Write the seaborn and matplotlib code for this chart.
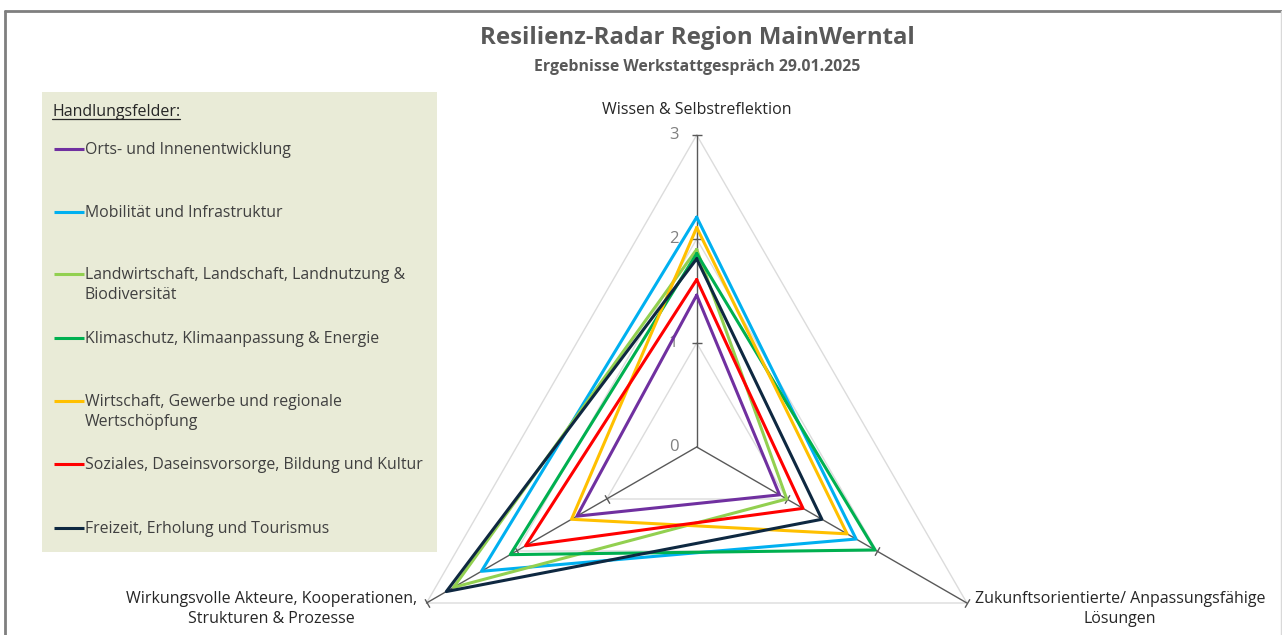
import numpy as np
import pandas as pd
import matplotlib
matplotlib.use("Agg")
import matplotlib.pyplot as plt
from matplotlib.lines import Line2D
import seaborn as sns

# ---- data -------------------------------------------------------------
dimensions = [
    "Wissen & Selbstreflektion",
    "Zukunftsorientierte/ Anpassungsfähige\nLösungen",
    "Wirkungsvolle Akteure, Kooperationen,\nStrukturen & Prozesse",
]

fields = [
    "Orts- und Innenentwicklung",
    "Mobilität und Infrastruktur",
    "Landwirtschaft, Landschaft, Landnutzung &\nBiodiversität",
    "Klimaschutz, Klimaanpassung & Energie",
    "Wirtschaft, Gewerbe und regionale\nWertschöpfung",
    "Soziales, Daseinsvorsorge, Bildung und Kultur",
    "Freizeit, Erholung und Tourismus",
]

# scores per field: [Wissen, Zukunft, Wirkung]
orts = [1.46, 0.92, 1.33]
mobilitaet = [2.21, 1.77, 2.39]
landwirtschaft = [1.90, 1.00, 2.70]
klimaschutz = [1.86, 1.98, 2.07]
wirtschaft = [2.11, 1.67, 1.39]
soziales = [1.61, 1.18, 1.90]
freizeit = [1.81, 1.39, 2.78]

scores = [orts, mobilitaet, landwirtschaft, klimaschutz, wirtschaft, soziales, freizeit]

colors = ["#7030A0", "#00B0F0", "#92D050", "#00B050", "#FFC000", "#FF0000", "#0E2841"]

scale_ticks = [0, 1, 2, 3]

title = "Resilienz-Radar Region MainWerntal"
subtitle = "Ergebnisse Werkstattgespräch 29.01.2025"
legend_title = "Handlungsfelder:"

# ---- figure -----------------------------------------------------------
sns.set_theme(style="white")
plt.rcParams["font.family"] = ["Open Sans", "DejaVu Sans"]

W, H = 1282, 635
fig = plt.figure(figsize=(W / 100, H / 100), dpi=100, facecolor="white")


def px_box(x0, y0, x1, y1):
    return [x0 / W, 1 - y1 / H, (x1 - x0) / W, (y1 - y0) / H]


# outer frame
fig.add_artist(Line2D([5 / W, 1], [1 - 11 / H, 1 - 11 / H], color="#7F7F7F", lw=2,
                      transform=fig.transFigure))
fig.add_artist(Line2D([5 / W, 5 / W], [0, 1 - 11 / H], color="#7F7F7F", lw=2,
                      transform=fig.transFigure))
fig.add_artist(Line2D([1281 / W, 1281 / W], [0, 1 - 11 / H], color="#D9D9D9", lw=1,
                      transform=fig.transFigure))

# titles
fig.text(697 / W, 1 - 38 / H, title, ha="center", va="center", fontsize=17.3,
         fontweight="bold", color="#595959")
fig.text(697 / W, 1 - 67 / H, subtitle, ha="center", va="center", fontsize=11.4,
         fontweight="bold", color="#595959")

# ---- legend panel -----------------------------------------------------
lx0, ly0, lx1, ly1 = 42, 92, 437, 552
lax = fig.add_axes(px_box(lx0, ly0, lx1, ly1))
lax.set_xlim(lx0, lx1)
lax.set_ylim(ly1, ly0)
lax.set_facecolor("#E9EBD7")
for s in lax.spines.values():
    s.set_visible(False)
lax.set_xticks([])
lax.set_yticks([])

head = lax.text(52, 112, legend_title, ha="left", va="center", fontsize=11.5,
                color="#262626")
entry_y = [149, 212, 274, 338, 401, 464, 528]
for name, col, y in zip(fields, colors, entry_y):
    lax.plot([54, 84], [y, y], color=col, lw=2.2, solid_capstyle="butt")
    lax.text(85, y - 7, name, ha="left", va="top", fontsize=11.4, color="#404040",
             linespacing=1.3)

# ---- radar ------------------------------------------------------------
cx, cy, R = 696.7, 447, 312
ax = fig.add_axes(px_box(cx - R, cy - R, cx + R, cy + R), projection="polar")
ax.set_theta_zero_location("N")
ax.set_theta_direction(-1)
ax.set_ylim(0, scale_ticks[-1])
ax.grid(False)
ax.spines["polar"].set_visible(False)
ax.set_xticks([])
ax.set_yticks([])
ax.patch.set_visible(False)

n = len(dimensions)
theta = np.linspace(0, 2 * np.pi, n, endpoint=False)
theta_closed = np.append(theta, 2 * np.pi)

# triangular grid
for r in scale_ticks[1:]:
    ax.plot(theta_closed, [r] * (n + 1), color="#DCDCDC", lw=1, zorder=1, clip_on=False)

# spokes with tick marks
for t in theta:
    ax.plot([t, t], [0, scale_ticks[-1]], color="#595959", lw=1, zorder=2, clip_on=False)
    screen_angle = 90 - np.degrees(t)
    ax.plot([t] * 3, scale_ticks[1:], linestyle="none",
            marker=(2, 0, screen_angle), markersize=7, mew=1,
            color="#595959", zorder=2, clip_on=False)

# scale labels
for v in scale_ticks:
    ax.annotate(str(v), xy=(0, v), xytext=(-23, 0), textcoords="offset pixels",
                ha="center", va="center", fontsize=12, color="#808080")

# series
rows = []
for name, vals in zip(fields, scores):
    for t, v in zip(theta_closed, vals + vals[:1]):
        rows.append({"field": name, "theta": t, "value": v})
df = pd.DataFrame(rows)

sns.lineplot(data=df, x="theta", y="value", hue="field", hue_order=fields,
             palette=dict(zip(fields, colors)), sort=False, estimator=None,
             linewidth=2.2, legend=False, ax=ax, zorder=3)
for line in ax.lines[-len(fields):]:
    line.set_clip_on(False)
ax.set_xlabel("")
ax.set_ylabel("")

# dimension labels
offsets = [(0, 25), (153, -6), (-155, -6)]
for lab, t, off in zip(dimensions, theta, offsets):
    ax.annotate(lab, xy=(t, scale_ticks[-1]), xytext=off, textcoords="offset pixels",
                ha="center", va="center", fontsize=11.5, color="#262626",
                multialignment="center", linespacing=1.3)

# underline legend heading
fig.canvas.draw()
bb = head.get_window_extent()
fig.add_artist(Line2D([bb.x0 / W, bb.x1 / W], [(bb.y0 + 1) / H, (bb.y0 + 1) / H],
                      color="#262626", lw=0.9, transform=fig.transFigure))

fig.savefig("out.png", dpi=100)
